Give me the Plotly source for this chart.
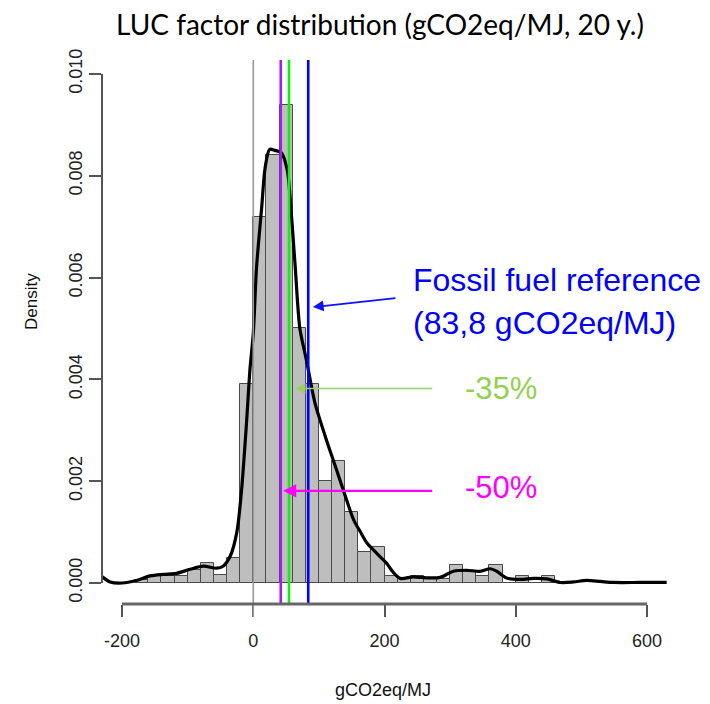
import plotly.graph_objects as go

# ---- data ----
bin_left = [-180, -160, -140, -120, -100, -80, -60, -40, -20, 0, 20, 40, 60, 80, 100,
            120, 140, 160, 180, 200, 220, 240, 260, 280, 300, 320, 340, 360, 380, 400,
            420, 440]
bin_density = [0.00005, 0.00014, 0.00014, 0.00014, 0.00025, 0.00040, 0.00015, 0.00050,
               0.00390, 0.00720, 0.00840, 0.00940, 0.00500, 0.00390, 0.00200, 0.00240,
               0.00140, 0.00060, 0.00070, 0.00014, 0.00007, 0.00014, 0.00007, 0.00007,
               0.00036, 0.00021, 0.00014, 0.00036, 0.0, 0.00014, 0.0, 0.00014]
bin_width = 20

dens_x = [-230, -218, -200, -178, -157, -137, -117, -96, -76, -56, -46, -35, -25, -18,
          -10, -5, 0, 5, 13, 18, 25, 33, 43, 52, 56, 64, 71, 79, 84, 94, 110, 127, 143,
          153, 163, 173, 183, 193, 203, 214, 224, 244, 264, 285, 305, 325, 346, 361,
          371, 386, 407, 427, 447, 468, 488, 508, 529, 549, 590, 630]
dens_y = [0.00012, 0.00002, 0.0, 0.00005, 0.00014, 0.00017, 0.00019, 0.00027, 0.00033,
          0.00029, 0.00033, 0.00053, 0.00100, 0.00180, 0.00320, 0.00420, 0.00490,
          0.00620, 0.00740, 0.00815, 0.00852, 0.00850, 0.00845, 0.00810, 0.00760,
          0.00620, 0.00500, 0.00450, 0.00418, 0.00354, 0.00287, 0.00222, 0.00160,
          0.00124, 0.00101, 0.00079, 0.00065, 0.00052, 0.00039, 0.00020, 0.00009,
          0.00012, 0.00010, 0.00011, 0.00023, 0.00025, 0.00023, 0.00028, 0.00023,
          0.00010, 0.00007, 0.00009, 0.00008, 0.00001, 0.00002, 0.00005, 0.00003,
          0.00001, 0.00001, 0.00001]

fossil_ref = 83.8
reductions = [0.35, 0.50]
x_ticks = [-200, 0, 200, 400, 600]
y_ticks = [0.000, 0.002, 0.004, 0.006, 0.008, 0.010]
y_ticklabels = ["0.000", "0.002", "0.004", "0.006", "0.008", "0.010"]

title_text = "LUC factor distribution (gCO2eq/MJ, 20 y.)"
xlab = "gCO2eq/MJ"
ylab = "Density"

AX_FONT = "Liberation Sans, Arial, sans-serif"

# ---- figure ----
fig = go.Figure()
fig.add_trace(go.Bar(
    x=[b + bin_width / 2 for b in bin_left], y=bin_density, width=bin_width,
    marker=dict(color="#bebebe", line=dict(color="#4a4a4a", width=1)),
    hoverinfo="skip", showlegend=False))
fig.add_trace(go.Scatter(
    x=dens_x, y=dens_y, mode="lines",
    line=dict(color="black", width=3.2, shape="spline", smoothing=0.8),
    hoverinfo="skip", showlegend=False))

ref35 = fossil_ref * (1 - reductions[0])
ref50 = fossil_ref * (1 - reductions[1])

shapes = [
    dict(type="line", xref="x", yref="paper", x0=0, x1=0, y0=-0.024, y1=1.0,
         line=dict(color="#9a9a9a", width=1.6), layer="above"),
    dict(type="line", xref="x", yref="paper", x0=ref50, x1=ref50, y0=0, y1=1.0,
         line=dict(color="#a020f0", width=2.6), layer="above"),
    dict(type="line", xref="x", yref="paper", x0=ref35, x1=ref35, y0=0, y1=1.0,
         line=dict(color="#10f010", width=2.6), layer="above"),
    dict(type="line", xref="x", yref="paper", x0=fossil_ref, x1=fossil_ref, y0=0, y1=1.0,
         line=dict(color="#0000ff", width=2.6), layer="above"),
    # R-style detached axes
    dict(type="line", xref="x", yref="paper", x0=x_ticks[0], x1=x_ticks[-1], y0=0, y1=0,
         line=dict(color="#666666", width=3), layer="above"),
    dict(type="line", xref="paper", yref="y", x0=0, x1=0, y0=y_ticks[0], y1=y_ticks[-1],
         line=dict(color="#555555", width=2), layer="above"),
]

ann = [
    dict(text=ylab, xref="paper", yref="paper", x=-0.124, y=0.557, textangle=-90,
         xanchor="center", yanchor="middle",
         showarrow=False, font=dict(family=AX_FONT, size=17, color="#111")),
    dict(text=xlab, xref="paper", yref="paper", x=0.497, y=-0.158,
         xanchor="center", yanchor="middle",
         showarrow=False, font=dict(family=AX_FONT, size=18, color="#111")),
    # arrows
    dict(text="", x=fossil_ref + 7, y=0.00542, ax=219, ay=0.0056, xref="x", yref="y",
         axref="x", ayref="y", showarrow=True, arrowhead=2, arrowsize=1.2,
         arrowwidth=1.8, arrowcolor="#1010ff", standoff=0),
    dict(text="", x=ref35 + 9, y=0.00382, ax=275, ay=0.00382, xref="x", yref="y",
         axref="x", ayref="y", showarrow=True, arrowhead=2, arrowsize=1.4,
         arrowwidth=1.5, arrowcolor="#99d060", standoff=0),
    dict(text="", x=ref50 + 3.5, y=0.00181, ax=275, ay=0.00181, xref="x", yref="y",
         axref="x", ayref="y", showarrow=True, arrowhead=2, arrowsize=1.1,
         arrowwidth=2.4, arrowcolor="#ff00ff", standoff=0),
    # labels
    dict(text="Fossil fuel reference", x=240, y=0.00596, xref="x", yref="y",
         xanchor="left", yanchor="middle", showarrow=False,
         font=dict(family="Liberation Sans", size=32, color="#0000ff")),
    dict(text="(83,8 gCO2eq/MJ)", x=240, y=0.00511, xref="x", yref="y",
         xanchor="left", yanchor="middle", showarrow=False,
         font=dict(family="Liberation Sans", size=32, color="#0000ff")),
    dict(text="-35%", x=320, y=0.00382, xref="x", yref="y",
         xanchor="left", yanchor="middle", showarrow=False,
         font=dict(family="Liberation Sans", size=31, color="#92d050")),
    dict(text="-50%", x=320, y=0.00188, xref="x", yref="y",
         xanchor="left", yanchor="middle", showarrow=False,
         font=dict(family="Liberation Sans", size=31, color="#ff00ff")),
]

# the page body adds an 8px offset, so the figure is 8px smaller and shifted
W, H = 702, 696
fig.update_layout(
    width=W, height=H,
    margin=dict(l=94, r=43, t=52, b=100, autoexpand=False),
    paper_bgcolor="white", plot_bgcolor="white",
    title=dict(text=title_text, x=372 / W, xanchor="center", y=1 - 17 / H,
               yanchor="middle", yref="container",
               font=dict(family="Lato", size=28, color="black")),
    bargap=0, showlegend=False,
    shapes=shapes, annotations=ann,
    xaxis=dict(range=[-230.5, 630.5], tickvals=x_ticks,
               ticktext=[str(v) for v in x_ticks], automargin=False,
               ticks="outside", ticklen=12, tickwidth=2, tickcolor="#555555",
               showline=False, showgrid=False, zeroline=False,
               ticklabelstandoff=8,
               tickfont=dict(family=AX_FONT, size=18, color="#222")),
    yaxis=dict(range=[-0.000413, 0.010275], tickvals=y_ticks, ticktext=y_ticklabels,
               ticks="outside", ticklen=12, tickwidth=2, tickcolor="#555555",
               tickangle=-90, showline=False, showgrid=False, zeroline=False,
               automargin=False,
               tickfont=dict(family=AX_FONT, size=18, color="#222")),
)

fig.write_html("out.html")
